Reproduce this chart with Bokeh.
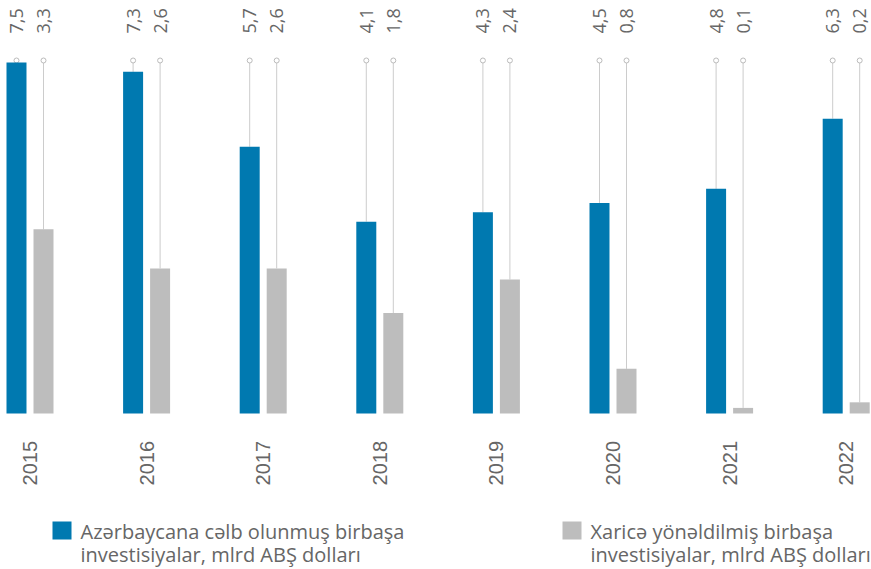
import math
from bokeh.plotting import figure
from bokeh.models import Range1d, ColumnDataSource, Label, BoxAnnotation
from bokeh.core.properties import value
from bokeh.embed import file_html
from bokeh.resources import INLINE

# ---- data ----
years = ["2015", "2016", "2017", "2018", "2019", "2020", "2021", "2022"]
inward = [7.5, 7.3, 5.7, 4.1, 4.3, 4.5, 4.8, 6.3]
outward = [3.3, 2.6, 2.6, 1.8, 2.4, 0.8, 0.1, 0.2]
legend_in = ["Azərbaycana cəlb olunmuş birbaşa", "investisiyalar, mlrd ABŞ dolları"]
legend_out = ["Xaricə yönəldilmiş birbaşa", "investisiyalar, mlrd ABŞ dolları"]

BLUE = "#0079B0"
GREY = "#BDBDBD"
LINE = "#CCCCCC"
TEXT = "#666666"

W, H = 871, 569
p = figure(width=W, height=H, output_backend="svg", toolbar_location=None,
           min_border=0, x_range=Range1d(-0.253, 7.217),
           y_range=Range1d(-3.333, 8.825),
           x_axis_location=None, y_axis_location=None)
p.extra_y_ranges = {"out": Range1d(-2.796, 7.401)}
p.grid.visible = False
p.outline_line_color = None
p.background_fill_color = None
p.border_fill_color = None

idx = list(range(len(years)))
off = 0.1158
bw = 0.1715
xb = [i - off for i in idx]
xg = [i + off for i in idx]
top_b = 7.543
top_g = 6.326

src = ColumnDataSource(dict(
    x=idx, xb=xb, xg=xg, inward=inward, outward=outward, years=years,
    lab_in=[f"{v:.1f}".replace(".", ",") for v in inward],
    lab_out=[f"{v:.1f}".replace(".", ",") for v in outward],
    top_b=[top_b] * len(idx), top_g=[top_g] * len(idx),
    zero=[0] * len(idx),
))

# guide lines with small markers
p.segment(x0="xb", y0="top_b", x1="xb", y1="inward", source=src,
          line_color=LINE, line_width=1)
p.segment(x0="xg", y0="top_g", x1="xg", y1="outward", source=src,
          line_color=LINE, line_width=1, y_range_name="out")
p.scatter(x="xb", y="top_b", source=src, size=5, fill_color="white",
          line_color="#BBBBBB", line_width=1)
p.scatter(x="xg", y="top_g", source=src, size=5, fill_color="white",
          line_color="#BBBBBB", line_width=1, y_range_name="out")

# bars
p.vbar(x="xb", top="inward", bottom="zero", width=bw, source=src,
       fill_color=BLUE, line_color=None)
p.vbar(x="xg", top="outward", bottom="zero", width=bw, source=src,
       fill_color=GREY, line_color=None, y_range_name="out")

# value labels (rotated)
p.text(x="xb", y=8.12, text="lab_in", source=src, angle=math.pi / 2,
       text_align="left", text_baseline="middle",
       text_font=value("Open Sans"), text_font_size="18px", text_color=TEXT)
p.text(x="xg", y=8.12, text="lab_out", source=src, angle=math.pi / 2,
       text_align="left", text_baseline="middle",
       text_font=value("Open Sans"), text_font_size="18px", text_color=TEXT)

# year labels
p.text(x="x", y=-1.538, text="years", source=src, angle=math.pi / 2,
       text_align="left", text_baseline="middle",
       text_font=value("Liberation Sans"), text_font_size="20px", text_color=TEXT)

# legend (screen positions)
def sy(screen_y):
    return H - screen_y

for (x0, col, lines) in [(52, BLUE, legend_in), (562, GREY, legend_out)]:
    p.add_layout(BoxAnnotation(left=x0, right=x0 + 19, top=sy(521), bottom=sy(539),
                               left_units="screen", right_units="screen",
                               top_units="screen", bottom_units="screen",
                               fill_color=col, fill_alpha=1, line_color=None))
    for k, t in enumerate(lines):
        p.add_layout(Label(x=x0 + 28, y=sy(531 + 23 * k), x_units="screen", y_units="screen",
                           text=t, text_font="Open Sans", text_font_size="20px",
                           text_color=TEXT, text_baseline="alphabetic", text_align="left"))

open("out.html", "w").write(file_html(p, INLINE))
